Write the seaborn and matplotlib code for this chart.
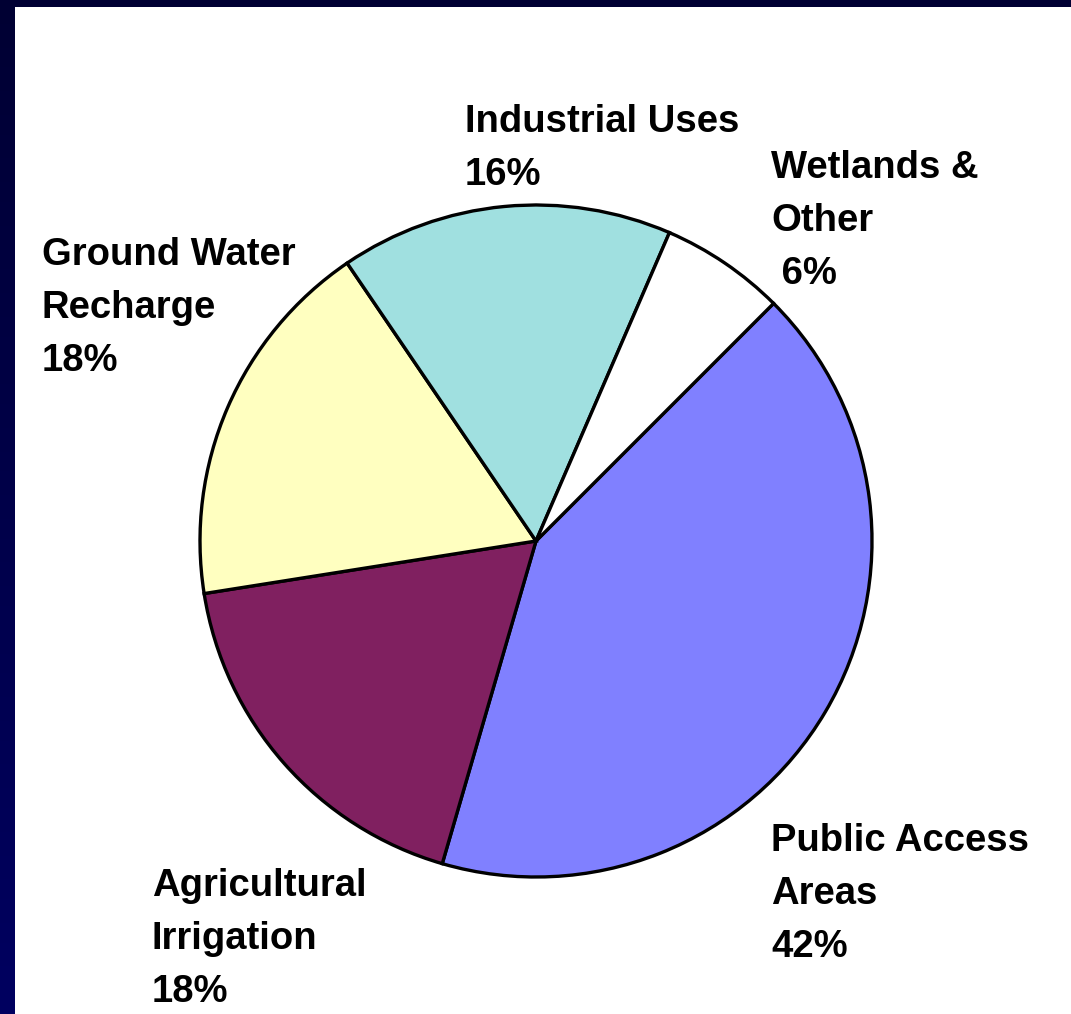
import numpy as np
import matplotlib
matplotlib.use("Agg")
import matplotlib.pyplot as plt
import seaborn as sns
from matplotlib.patches import Rectangle
from matplotlib.colors import LinearSegmentedColormap

sns.set_theme(style="white")
plt.rcParams['font.family'] = ['Liberation Sans', 'DejaVu Sans']

labels = ["Public Access\nAreas", "Agricultural\nIrrigation", "Ground Water\nRecharge",
          "Industrial Uses", "Wetlands &\nOther"]
values = [42, 18, 18, 16, 6]
pct_labels = ["42%", "18%", "18%", "16%", " 6%"]
colors = ["#8080FF", "#802060", "#FFFFC0", "#A0E0E0", "#FFFFFF"]

W, H = 1071, 1014
fig = plt.figure(figsize=(W / 100, H / 100), dpi=100)
fig.patch.set_facecolor("#000040")

# navy border gradient
bg = fig.add_axes([0, 0, 1, 1])
grad = np.linspace(0, 1, 256).reshape(-1, 1)
cmap = LinearSegmentedColormap.from_list("navy", ["#000033", "#000060"])
bg.imshow(grad, aspect="auto", cmap=cmap, extent=[0, W, H, 0])
bg.set_xlim(0, W)
bg.set_ylim(H, 0)
bg.axis("off")

ax = fig.add_axes([0, 0, 1, 1])
ax.add_patch(Rectangle((15, 0), W - 15, H - 7, facecolor="white", edgecolor="none", zorder=0))

cx, cy, r = 536, H - 541, 336
ax.pie(values, colors=colors, startangle=45, counterclock=False,
       center=(cx, cy), radius=r, frame=True,
       wedgeprops=dict(edgecolor="black", linewidth=2.4))
ax.set_xlim(0, W)
ax.set_ylim(0, H)
ax.set_aspect("auto")
ax.axis("off")

# label positions (left x, top y in pixels)
pos = [(771, 823), (152, 868), (42, 237), (465, 104), (771, 150)]
fs = 27.5
for lab, pct, (x, y) in zip(labels, pct_labels, pos):
    ax.text(x, H - y, lab + "\n" + pct, ha="left", va="top", fontsize=fs,
            fontweight="bold", color="black", linespacing=1.6)

fig.savefig("out.png", dpi=100, facecolor=fig.get_facecolor())
